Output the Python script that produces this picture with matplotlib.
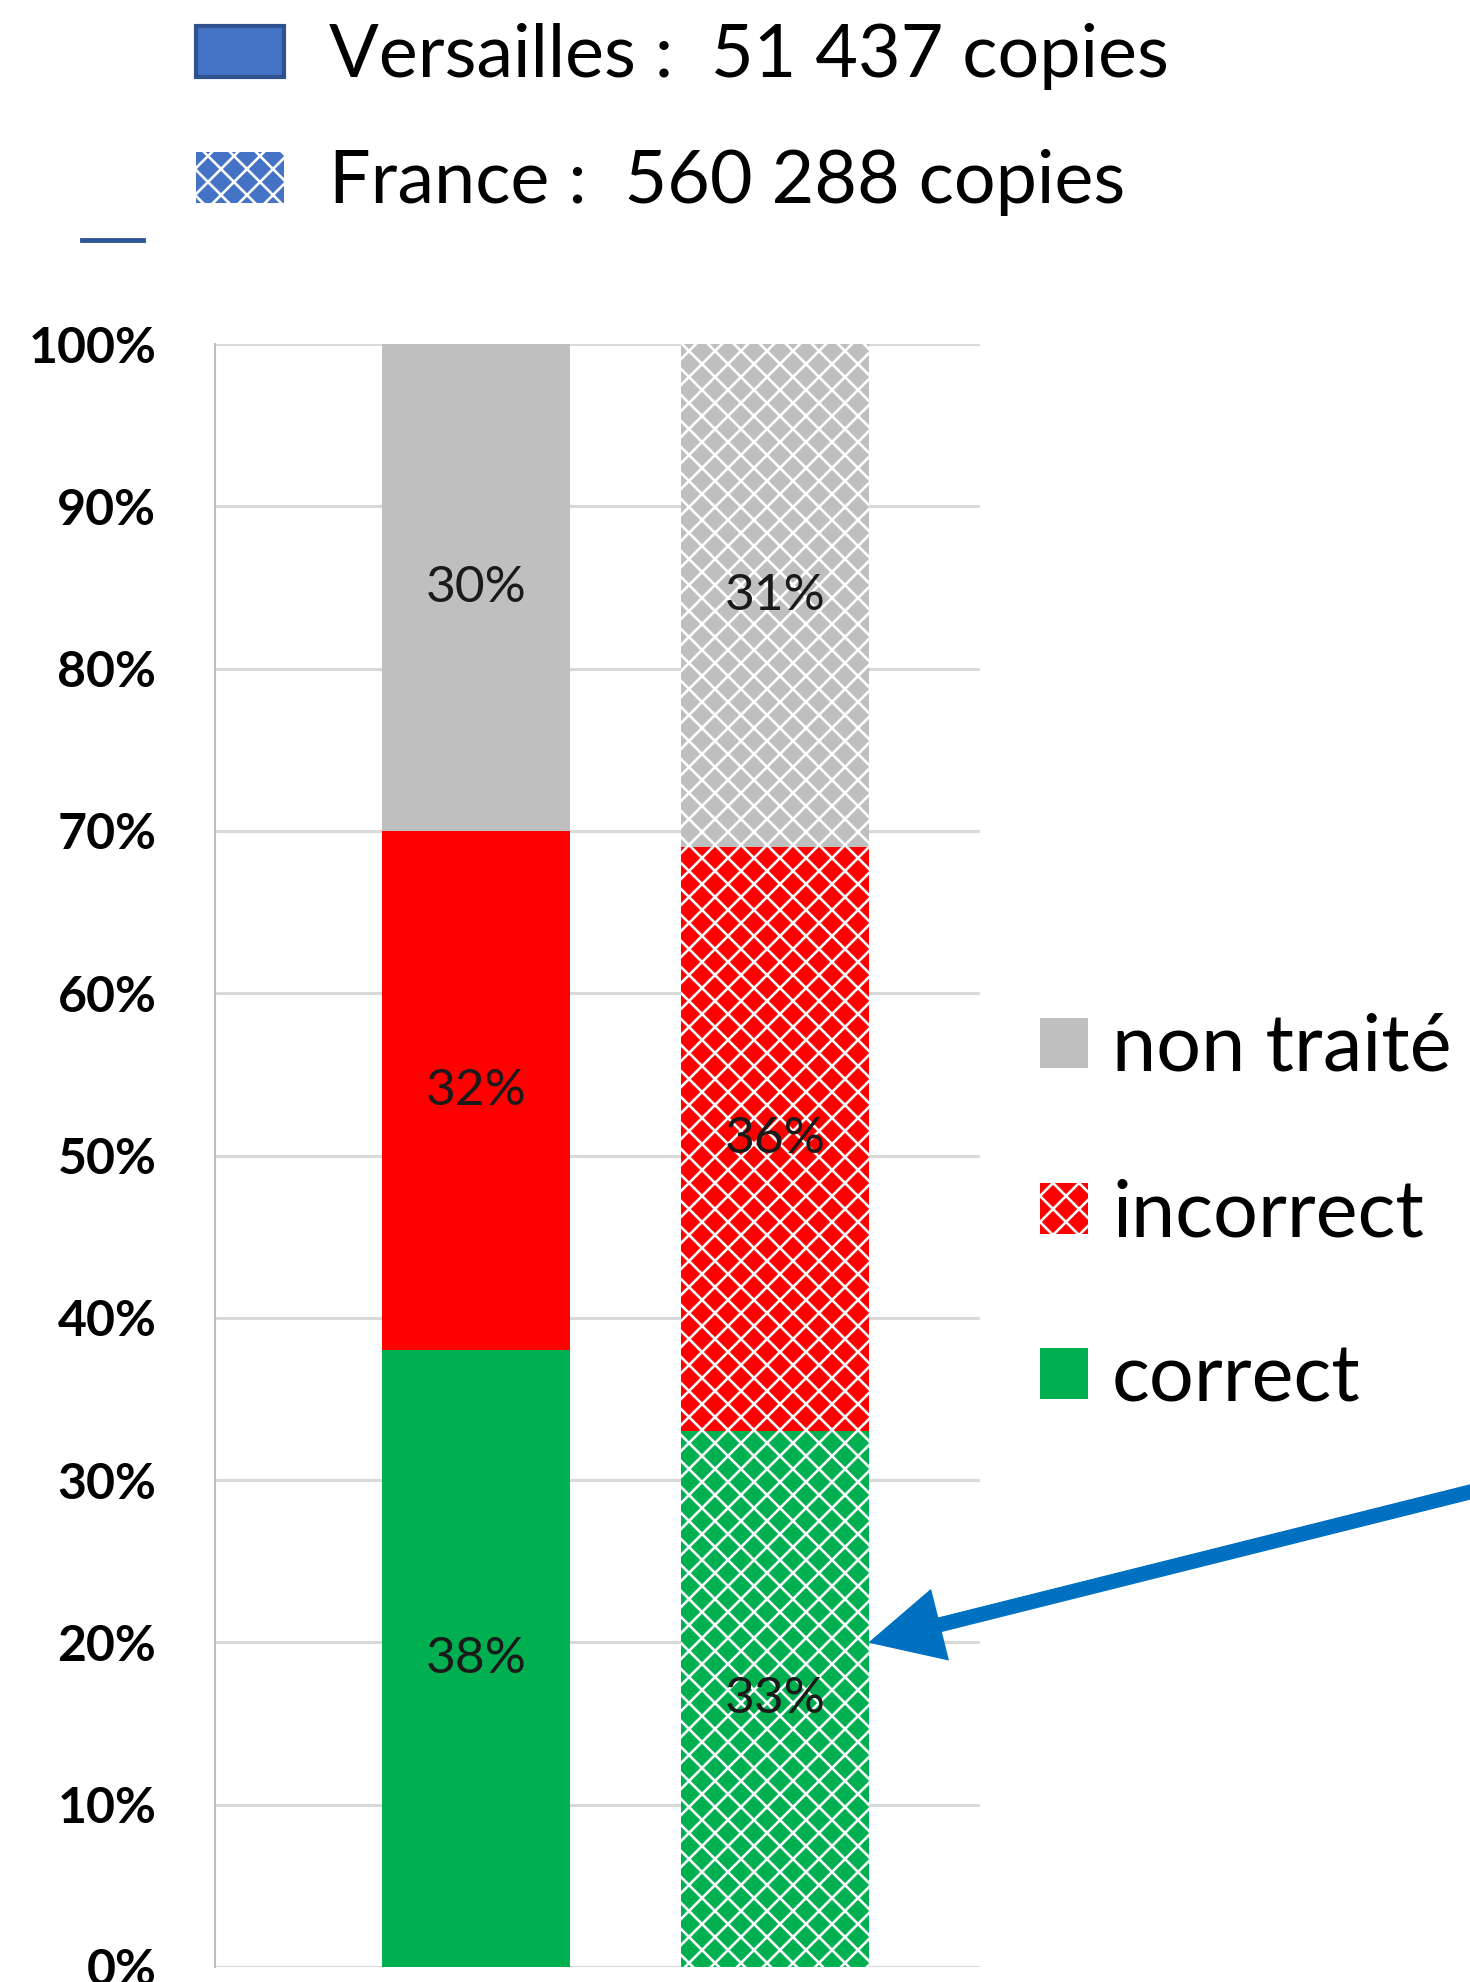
import matplotlib.pyplot as plt
from matplotlib.patches import Patch
from matplotlib.lines import Line2D
import numpy as np

# data
groups = ["Versailles", "France"]
categories = ["correct", "incorrect", "non traité"]
versailles_pct = [38, 32, 30]
france_pct = [33, 36, 31]
legend_groups = ["Versailles :  51 437 copies", "France :  560 288 copies"]
legend_cats = ["non traité", "incorrect", "correct"]

COLORS = {"correct": "#00B050", "incorrect": "#FF0000", "non traité": "#BFBFBF"}
FONT = ["Lato", "DejaVu Sans"]

# low dpi so that a single 'x' hatch gives a ~13 px lattice; sizes below are
# given as "points at 100 dpi" and scaled by PT
DPI = 78
PT = 100 / DPI

plt.rcParams["font.family"] = FONT
plt.rcParams["hatch.linewidth"] = 2.4

fig = plt.figure(figsize=(1470 / DPI, 1982 / DPI), dpi=DPI)
ax = fig.add_axes([0.146, 0.0076, 0.521, 0.8188])

x = np.arange(len(groups))
width = 0.63
values = np.array([versailles_pct, france_pct]).T  # rows: categories

bottom = np.zeros(len(groups))
for i, cat in enumerate(categories):
    vals = values[i]
    # Versailles: solid
    c1 = ax.bar(x[0], vals[0], width, bottom=bottom[0], color=COLORS[cat], linewidth=0, zorder=3)
    # France: hatched
    c2 = ax.bar(x[1], vals[1], width, bottom=bottom[1], facecolor=COLORS[cat],
                edgecolor="white", hatch="x", linewidth=0, zorder=3)
    for cont, v in ((c1, vals[0]), (c2, vals[1])):
        ax.bar_label(cont, labels=[f"{v}%"], label_type="center", fontsize=37 * PT,
                     color="#1a1a1a", zorder=4)
    bottom += vals

ax.set_xlim(-0.873, 1.686)
ax.set_ylim(0, 100)
ax.set_yticks(np.arange(0, 101, 10))
ax.set_yticklabels([f"{t}%" for t in range(0, 101, 10)], fontsize=36 * PT, fontweight="bold")
ax.tick_params(axis="y", length=0, pad=42 * PT)
ax.set_xticks([])
ax.yaxis.grid(True, color="#D9D9D9", linewidth=2.2 * PT, zorder=0)
ax.set_axisbelow(True)
for s in ["top", "right", "bottom"]:
    ax.spines[s].set_visible(False)
ax.spines["left"].set_color("#BFBFBF")
ax.spines["left"].set_linewidth(1.5 * PT)

# top legend (zones)
top_handles = [
    Patch(facecolor="#4472C4", edgecolor="#2F528F", linewidth=3 * PT),
    Patch(facecolor="#4472C4", edgecolor="white", hatch="x", linewidth=0),
]
fig.legend(top_handles, legend_groups, loc="upper left",
           bbox_to_anchor=(0.128, 0.992), frameon=False, fontsize=53 * PT,
           handlelength=1.2, handleheight=0.68, handletextpad=0.62,
           labelspacing=0.80, borderpad=0.1, borderaxespad=0)

# right legend (categories)
right_handles = [
    Patch(facecolor=COLORS["non traité"], linewidth=0),
    Patch(facecolor=COLORS["incorrect"], edgecolor="white", hatch="x", linewidth=0),
    Patch(facecolor=COLORS["correct"], linewidth=0),
]
fig.legend(right_handles, legend_cats, loc="upper left",
           bbox_to_anchor=(0.7075, 0.489), frameon=False, fontsize=57 * PT,
           handlelength=0.61, handleheight=0.61, handletextpad=0.30,
           labelspacing=1.18, borderpad=0, borderaxespad=0)

# small dark blue dash under the legend
fig.add_artist(Line2D([0.056, 0.097], [0.879, 0.879], color="#2F5597", linewidth=3.5 * PT))

# blue arrow pointing at France correct
ax.annotate("", xy=(x[1] + width / 2, 20), xycoords="data",
            xytext=(1.03, 0.2528), textcoords="figure fraction",
            arrowprops=dict(facecolor="#0070C0", edgecolor="#0070C0",
                            width=10 * PT, headwidth=52 * PT, headlength=52 * PT, shrink=0),
            annotation_clip=False)

fig.savefig("out.png", dpi=DPI)
